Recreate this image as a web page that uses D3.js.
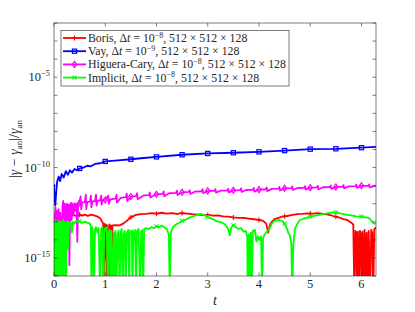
<!DOCTYPE html>
<html>
<head>
<meta charset="utf-8">
<script src="https://cdn.jsdelivr.net/npm/d3@7"></script>
<style>
  body { margin: 0; background: #fff; }
  text { font-family: "Liberation Serif", "DejaVu Serif", serif; fill: #262626; }
</style>
</head>
<body>
<div id="my_dataviz"></div>
<script>
// values, as [t, log10 of relative error]; -17 = dropped to zero (clipped)
var vayPts = [[0,-10.9],[0.01,-11.6],[0.025,-12.1],[0.04,-11.5],[0.06,-10.8],[0.09,-10.5],[0.12,-10.75],[0.15,-10.35],
  [0.19,-10.55],[0.23,-10.2],[0.27,-10.4],[0.31,-10.15],[0.35,-10.28],[0.4,-10.08],[0.45,-10.15],[0.5,-10.05],
  [0.58,-10.0],[0.65,-9.9],[0.72,-9.93],[0.8,-9.8],[0.9,-9.76],[1.0,-9.66],[1.25,-9.6],[1.5,-9.54],[1.75,-9.47],
  [2.0,-9.41],[2.5,-9.29],[3.0,-9.22],[3.5,-9.18],[4.0,-9.13],[4.5,-9.06],[5.0,-8.98],[5.5,-8.96],[6.0,-8.9],[6.283,-8.86]];

var borisPts = [[0.02,-17],[0.04,-13.7],[0.07,-13.5],[0.1,-13.3],[0.13,-13.15],[0.16,-13.0],[0.2,-12.85],[0.24,-12.75],
  [0.28,-12.68],[0.33,-12.72],[0.38,-12.62],[0.43,-12.68],[0.5,-12.6],[0.55,-12.66],[0.6,-12.6],[0.66,-12.67],
  [0.72,-12.6],[0.78,-12.65],[0.84,-12.7],[0.9,-12.8],[0.94,-13.0],[0.96,-13.1],[0.97,-17],[0.98,-13.1],[1.0,-15.0],
  [1.01,-13.15],[1.03,-17],[1.04,-13.2],[1.07,-17],[1.08,-13.15],[1.1,-17],[1.11,-13.2],[1.13,-17],[1.14,-13.2],
  [1.2,-13.18],[1.28,-13.2],[1.35,-13.1],[1.42,-12.95],[1.5,-12.75],[1.6,-12.62],[1.7,-12.58],[1.8,-12.56],
  [1.9,-12.52],[2.0,-12.55],[2.1,-12.5],[2.2,-12.55],[2.3,-12.52],[2.4,-12.56],[2.5,-12.52],[2.6,-12.55],
  [2.7,-12.58],[2.8,-12.6],[2.9,-12.63],[3.0,-12.62],[3.1,-12.66],[3.2,-12.65],[3.3,-12.7],[3.4,-12.72],
  [3.5,-12.76],[3.6,-12.78],[3.7,-12.78],[3.8,-12.82],[3.9,-12.86],[4.0,-12.9],[4.08,-12.95],[4.14,-13.1],
  [4.18,-13.6],[4.21,-13.2],[4.25,-13.0],[4.3,-12.85],[4.38,-12.78],[4.45,-12.72],[4.55,-12.68],[4.65,-12.62],
  [4.75,-12.58],[4.85,-12.56],[4.95,-12.53],[5.05,-12.55],[5.15,-12.52],[5.25,-12.56],[5.35,-12.6],[5.45,-12.68],
  [5.55,-12.75],[5.65,-12.85],[5.72,-12.9],[5.8,-13.05],[5.84,-13.15],[5.86,-17],[5.88,-13.5],[5.9,-13.6],
  [5.91,-17],[5.93,-13.55],[5.95,-17],[5.97,-13.5],[5.99,-13.7],[6.0,-17],[6.02,-13.55],[6.04,-17],[6.06,-13.45],
  [6.08,-17],[6.1,-13.6],[6.12,-17],[6.14,-13.5],[6.17,-17],[6.19,-13.45],[6.21,-13.6],[6.23,-17],[6.25,-13.4],
  [6.27,-13.35],[6.283,-13.3]];

var higueraPts = [[0,-12.5],[0.015,-13.4],[0.03,-12.2],[0.045,-13.9],[0.06,-12.4],[0.075,-14.6],[0.09,-12.3],
  [0.105,-15.6],[0.12,-12.5],[0.135,-13.2],[0.15,-15.9],[0.165,-12.2],[0.18,-11.85],[0.195,-13.0],[0.21,-12.0],
  [0.225,-14.2],[0.24,-12.1],[0.255,-12.0],[0.27,-13.1],[0.285,-12.05],[0.3,-15.4],[0.315,-12.1],[0.33,-11.95],
  [0.345,-12.9],[0.36,-12.0],[0.38,-12.6],[0.4,-11.98],[0.42,-12.4],[0.44,-12.0],[0.455,-14.1],[0.47,-12.05],
  [0.5,-11.94],[0.52,-11.6],[0.53,-12.3],[0.55,-11.93],[0.6,-11.92],[0.62,-11.5],[0.63,-12.3],[0.65,-11.9],
  [0.7,-11.88],[0.72,-11.55],[0.73,-12.2],[0.75,-11.87],[0.8,-11.85],[0.82,-11.5],[0.83,-12.1],[0.85,-11.84],
  [0.9,-11.82],[0.92,-11.55],[0.93,-12.05],[0.95,-11.8],[1.0,-11.79],[1.06,-11.55],[1.07,-12.0],[1.1,-11.76],
  [1.2,-11.72],[1.22,-11.5],[1.23,-11.95],[1.3,-11.68],[1.4,-11.64],[1.42,-11.45],[1.43,-11.85],[1.5,-11.6],
  [1.6,-11.58],[1.62,-11.42],[1.63,-11.75],[1.75,-11.54],[1.85,-11.52],[1.87,-11.38],[1.88,-11.66],[2.0,-11.48],
  [2.12,-11.45],[2.14,-11.32],[2.15,-11.58],[2.25,-11.42],[2.38,-11.4],[2.4,-11.28],[2.41,-11.52],[2.5,-11.37],
  [2.63,-11.35],[2.65,-11.25],[2.66,-11.46],[2.75,-11.33],[2.88,-11.31],[2.9,-11.2],[2.91,-11.42],[3.0,-11.29],
  [3.13,-11.29],[3.15,-11.19],[3.16,-11.39],[3.25,-11.28],[3.38,-11.27],[3.4,-11.17],[3.41,-11.37],[3.5,-11.26],
  [3.63,-11.25],[3.65,-11.15],[3.66,-11.35],[3.75,-11.24],[3.88,-11.23],[3.9,-11.13],[3.91,-11.33],[4.0,-11.22],
  [4.13,-11.2],[4.15,-11.1],[4.16,-11.3],[4.25,-11.18],[4.38,-11.17],[4.4,-11.07],[4.41,-11.27],[4.5,-11.15],
  [4.63,-11.14],[4.65,-11.05],[4.66,-11.24],[4.75,-11.13],[4.88,-11.12],[4.9,-11.03],[4.91,-11.22],[5.0,-11.11],
  [5.13,-11.1],[5.15,-11.01],[5.16,-11.2],[5.25,-11.09],[5.38,-11.08],[5.4,-10.99],[5.41,-11.18],[5.5,-11.07],
  [5.63,-11.06],[5.65,-10.97],[5.66,-11.15],[5.75,-11.04],[5.88,-11.03],[5.9,-10.94],[5.91,-11.12],[6.0,-11.01],
  [6.13,-11.01],[6.15,-10.93],[6.16,-11.1],[6.283,-11.0]];

var implicitPts = [[0,-13.4],[0.01,-17],[0.02,-13.0],[0.035,-12.9],[0.045,-17],[0.055,-13.1],[0.07,-13.6],[0.08,-17],
  [0.09,-13.0],[0.105,-12.95],[0.115,-17],[0.125,-13.2],[0.14,-13.0],[0.155,-16.0],[0.165,-13.1],[0.18,-12.9],
  [0.19,-17],[0.2,-13.0],[0.22,-13.3],[0.235,-17],[0.245,-13.1],[0.26,-12.95],[0.275,-14.5],[0.29,-13.0],
  [0.31,-13.2],[0.33,-13.05],[0.35,-13.6],[0.37,-13.0],[0.4,-13.1],[0.43,-12.95],[0.46,-13.0],[0.5,-12.98],
  [0.55,-13.05],[0.6,-13.0],[0.65,-13.05],[0.7,-13.1],[0.72,-13.3],[0.73,-17],[0.745,-13.3],[0.76,-13.5],
  [0.78,-17],[0.8,-13.4],[0.82,-13.3],[0.85,-13.6],[0.87,-13.35],[0.9,-17],[0.92,-13.4],[0.94,-13.3],[0.96,-17],
  [0.98,-13.6],[1.0,-13.4],[1.03,-13.3],[1.05,-17],[1.06,-13.6],[1.09,-13.45],[1.1,-17],[1.12,-13.5],[1.15,-17],
  [1.17,-13.6],[1.19,-17],[1.2,-13.5],[1.22,-17],[1.24,-13.7],[1.26,-13.5],[1.28,-17],[1.3,-13.6],[1.32,-13.4],
  [1.34,-17],[1.36,-13.7],[1.38,-13.5],[1.4,-17],[1.42,-13.6],[1.45,-13.45],[1.47,-17],[1.48,-13.6],[1.52,-13.5],
  [1.53,-17],[1.55,-13.6],[1.58,-13.45],[1.6,-17],[1.62,-13.5],[1.65,-13.4],[1.68,-17],[1.7,-13.55],[1.72,-13.45],
  [1.74,-17],[1.76,-13.4],[1.8,-13.35],[1.85,-13.4],[1.9,-13.3],[1.95,-13.35],[2.0,-13.25],[2.05,-13.3],
  [2.1,-13.2],[2.15,-13.3],[2.2,-13.4],[2.24,-13.7],[2.26,-17],[2.28,-13.6],[2.32,-13.3],[2.38,-13.15],
  [2.44,-13.05],[2.5,-12.95],[2.56,-12.9],[2.62,-12.8],[2.68,-12.72],[2.74,-12.68],[2.8,-12.6],[2.86,-12.56],
  [2.92,-12.62],[2.98,-12.7],[3.04,-12.78],[3.1,-12.85],[3.16,-12.95],[3.22,-13.0],[3.28,-13.05],[3.34,-13.15],
  [3.4,-13.4],[3.43,-13.75],[3.46,-13.3],[3.5,-13.2],[3.55,-13.3],[3.6,-13.4],[3.65,-13.35],[3.7,-13.55],
  [3.74,-13.5],[3.77,-13.8],[3.78,-17],[3.8,-13.7],[3.82,-17],[3.84,-13.6],[3.86,-17],[3.88,-13.5],[3.92,-13.45],
  [3.95,-14.1],[3.98,-13.8],[4.01,-14.0],[4.04,-13.8],[4.06,-17],[4.08,-13.9],[4.11,-13.7],[4.15,-13.55],
  [4.2,-13.4],[4.25,-13.1],[4.3,-12.95],[4.35,-12.92],[4.4,-12.9],[4.45,-12.95],[4.5,-13.1],[4.54,-13.35],
  [4.57,-13.6],[4.6,-13.75],[4.63,-14.2],[4.65,-17],[4.67,-14.3],[4.7,-13.4],[4.75,-13.1],[4.8,-12.9],[4.9,-12.8],
  [5.0,-12.72],[5.1,-12.66],[5.2,-12.6],[5.3,-12.55],[5.4,-12.5],[5.5,-12.48],[5.6,-12.55],[5.7,-12.6],
  [5.8,-12.65],[5.9,-12.7],[6.0,-12.72],[6.08,-12.75],[6.14,-12.78],[6.18,-12.9],[6.22,-13.05],[6.26,-13.1],
  [6.283,-13.12]];

var markerTimes = [0.5, 1, 1.5, 2, 2.5, 3, 3.5, 4, 4.5, 5, 5.5, 6];
var xTicks = [0, 1, 2, 3, 4, 5, 6];
var yTickExps = [-16, -15, -14, -13, -12, -11, -10, -9, -8, -7, -6, -5, -4, -3, -2];
var yLabelExps = [-5, -10, -15];

var series = [
  {name: "Boris", dtExp: "−8", pts: borisPts, color: "#ff0000", marker: "plus"},
  {name: "Vay", dtExp: "−9", pts: vayPts, color: "#0000ff", marker: "square"},
  {name: "Higuera-Cary", dtExp: "−8", pts: higueraPts, color: "#ff00ff", marker: "diamond"},
  {name: "Implicit", dtExp: "−8", pts: implicitPts, color: "#00ff00", marker: "cross"}
];

// plot box in pixels
var boxL = 54, boxR = 376, boxT = 23, boxB = 276;

var svg = d3.select("#my_dataviz")
  .append("svg")
  .attr("width", 415)
  .attr("height", 312);

var x = d3.scaleLinear().domain([0, 2 * Math.PI]).range([boxL, boxR]);
var y = d3.scaleLog().domain([1e-16, 1e-2]).range([boxB, boxT]);

svg.append("clipPath").attr("id", "clip")
  .append("rect")
  .attr("x", boxL).attr("y", boxT)
  .attr("width", boxR - boxL).attr("height", boxB - boxT);

// series value at t (linear between read points)
function valueAt(pts, t) {
  var i = d3.bisector(function(d){ return d[0]; }).left(pts, t);
  if (i <= 0) return pts[0][1];
  if (i >= pts.length) return pts[pts.length - 1][1];
  var a = pts[i - 1], b = pts[i];
  if (b[0] == t) return b[1];
  return a[1] + (b[1] - a[1]) * (t - a[0]) / (b[0] - a[0]);
}

var line = d3.line()
  .x(function(d){ return x(d[0]); })
  .y(function(d){ return y(Math.pow(10, d[1])); });

var plot = svg.append("g").attr("clip-path", "url(#clip)");

function drawMarker(g, kind, cx, cy, color) {
  var s = 2.1;
  if (kind == "square") {
    g.append("rect").attr("x", cx - s).attr("y", cy - s).attr("width", 2 * s).attr("height", 2 * s)
      .attr("fill", "none").attr("stroke", color).attr("stroke-width", 1.2);
  } else if (kind == "diamond") {
    g.append("path").attr("d", "M" + cx + "," + (cy - 3) + "L" + (cx + 2.2) + "," + cy + "L" + cx + "," + (cy + 3) + "L" + (cx - 2.2) + "," + cy + "Z")
      .attr("fill", "none").attr("stroke", color).attr("stroke-width", 1.2);
  } else if (kind == "plus") {
    g.append("path").attr("d", "M" + (cx - 2.5) + "," + cy + "H" + (cx + 2.5) + "M" + cx + "," + (cy - 2.5) + "V" + (cy + 2.5))
      .attr("fill", "none").attr("stroke", color).attr("stroke-width", 1.1);
  } else {
    g.append("path").attr("d", "M" + (cx - 2) + "," + (cy - 2) + "L" + (cx + 2) + "," + (cy + 2) + "M" + (cx + 2) + "," + (cy - 2) + "L" + (cx - 2) + "," + (cy + 2))
      .attr("fill", "none").attr("stroke", color).attr("stroke-width", 1.1);
  }
}

series.forEach(function(s) {
  plot.append("path")
    .datum(s.pts)
    .attr("d", line)
    .attr("fill", "none")
    .attr("stroke", s.color)
    .attr("stroke-width", 1.8)
    .attr("stroke-linejoin", "round");
  markerTimes.forEach(function(t) {
    drawMarker(plot, s.marker, x(t), y(Math.pow(10, valueAt(s.pts, t))), s.color);
  });
});

// frame and ticks (inward, all four sides)
var axisColor = "#262626";
svg.append("rect")
  .attr("x", boxL).attr("y", boxT)
  .attr("width", boxR - boxL).attr("height", boxB - boxT)
  .attr("fill", "none").attr("stroke", axisColor).attr("stroke-width", 0.6);

xTicks.forEach(function(t) {
  svg.append("line").attr("x1", x(t)).attr("x2", x(t)).attr("y1", boxB).attr("y2", boxB - 3.5)
    .attr("stroke", axisColor).attr("stroke-width", 0.6);
  svg.append("line").attr("x1", x(t)).attr("x2", x(t)).attr("y1", boxT).attr("y2", boxT + 3.5)
    .attr("stroke", axisColor).attr("stroke-width", 0.6);
  svg.append("text").attr("x", x(t)).attr("y", 288).attr("text-anchor", "middle")
    .attr("font-size", "12.5px").text(t);
});

yTickExps.forEach(function(e) {
  var yy = y(Math.pow(10, e));
  svg.append("line").attr("x1", boxL).attr("x2", boxL + 3.5).attr("y1", yy).attr("y2", yy)
    .attr("stroke", axisColor).attr("stroke-width", 0.6);
  svg.append("line").attr("x1", boxR).attr("x2", boxR - 3.5).attr("y1", yy).attr("y2", yy)
    .attr("stroke", axisColor).attr("stroke-width", 0.6);
});

yLabelExps.forEach(function(e) {
  var t = svg.append("text").attr("x", 50).attr("y", y(Math.pow(10, e)) + 4)
    .attr("text-anchor", "end").attr("font-size", "12.5px");
  t.append("tspan").text("10");
  t.append("tspan").attr("font-size", "8.5px").attr("dy", -5).text("−" + (-e));
});

// axis titles
svg.append("text").attr("x", 215).attr("y", 305).attr("text-anchor", "middle")
  .attr("font-size", "14px").attr("font-style", "italic").text("t");

var yl = svg.append("text")
  .attr("transform", "translate(19,149) rotate(-90)")
  .attr("text-anchor", "middle").attr("font-size", "14px");
yl.append("tspan").text("|");
yl.append("tspan").attr("font-style", "italic").text("γ");
yl.append("tspan").text(" − ");
yl.append("tspan").attr("font-style", "italic").text("γ");
yl.append("tspan").attr("font-size", "9px").attr("dy", 3).text("an");
yl.append("tspan").attr("dy", -3).text("|/");
yl.append("tspan").attr("font-style", "italic").text("γ");
yl.append("tspan").attr("font-size", "9px").attr("dy", 3).text("an");

// legend
var legend = svg.append("g");
legend.append("rect")
  .attr("x", 61).attr("y", 30.5).attr("width", 228).attr("height", 55.5)
  .attr("fill", "#fff").attr("stroke", axisColor).attr("stroke-width", 0.6);

series.forEach(function(s, i) {
  var ly = 38 + i * 13.2;
  legend.append("line").attr("x1", 63).attr("x2", 86).attr("y1", ly).attr("y2", ly)
    .attr("stroke", s.color).attr("stroke-width", 1.8);
  drawMarker(legend, s.marker, 74.5, ly, s.color);
  var tx = legend.append("text").attr("x", 88).attr("y", ly + 4).attr("font-size", "11.8px");
  tx.append("tspan").text(s.name + ", Δ");
  tx.append("tspan").attr("font-style", "italic").text("t");
  tx.append("tspan").text(" = 10");
  tx.append("tspan").attr("font-size", "8px").attr("dy", -4.5).text(s.dtExp);
  tx.append("tspan").attr("dy", 4.5).text(", 512 × 512 × 128");
});
</script>
</body>
</html>
